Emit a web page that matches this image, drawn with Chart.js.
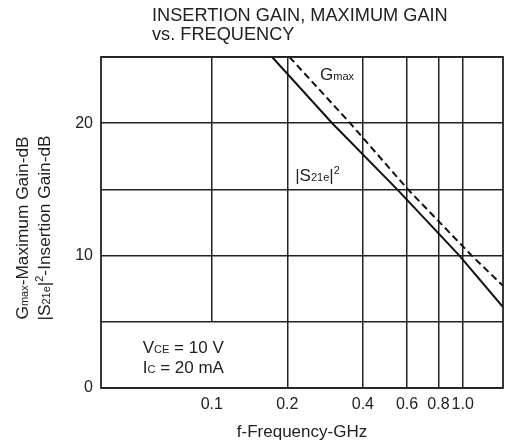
<!DOCTYPE html>
<html>
<head>
<meta charset="utf-8">
<script src="https://cdn.jsdelivr.net/npm/chart.js@4/dist/chart.umd.min.js"></script>
<style>
  html, body { margin: 0; padding: 0; background: #fff; }
  #wrap { width: 505px; height: 443px; }
</style>
</head>
<body>
<div id="wrap"><canvas id="gain-chart" width="505" height="443"></canvas></div>
<script>
// values
const xTicks = [0.1, 0.2, 0.4, 0.6, 0.8, 1.0];
const xTickLabels = ['0.1', '0.2', '0.4', '0.6', '0.8', '1.0'];
const yTickLabels = { 0: '0', 10: '10', 20: '20' };

// |S21e|^2 insertion gain (solid)
const s21Freq = [0.174, 0.302, 0.548, 0.97, 1.45];
const s21Gain = [25, 20, 15, 10, 6.1];

// Gmax maximum gain (dashed)
const gmaxFreq = [0.204, 0.356, 0.605, 1.086, 1.45];
const gmaxGain = [25, 20, 15, 10, 7.7];

const FONT = '"Liberation Sans", Arial, sans-serif';
const INK = '#222';

function toPoints(xs, ys) {
    return xs.map((x, i) => ({ x: x, y: ys[i] }));
}

// draws text made of pieces with their own size and vertical offset (sub/superscripts)
function drawRich(ctx, parts, x, y, align) {
    let total = 0;
    parts.forEach(p => {
        ctx.font = p[1] + 'px ' + FONT;
        total += ctx.measureText(p[0]).width;
    });
    let cx = align === 'center' ? x - total / 2 : x;
    ctx.textAlign = 'left';
    ctx.textBaseline = 'alphabetic';
    parts.forEach(p => {
        ctx.font = p[1] + 'px ' + FONT;
        ctx.fillText(p[0], cx, y + (p[2] || 0));
        cx += ctx.measureText(p[0]).width;
    });
}

const decorPlugin = {
    id: 'decor',
    beforeDatasetsDraw(chart) {
        const ctx = chart.ctx;
        const xs = chart.scales.x;
        const ys = chart.scales.y;
        // the 0.1 GHz grid line stops at 5 dB (condition box below)
        ctx.save();
        ctx.strokeStyle = INK;
        ctx.lineWidth = 1.5;
        const px = xs.getPixelForValue(0.1);
        ctx.beginPath();
        ctx.moveTo(px, ys.getPixelForValue(25));
        ctx.lineTo(px, ys.getPixelForValue(5));
        ctx.stroke();
        ctx.restore();
    },
    afterDraw(chart) {
        const ctx = chart.ctx;
        const a = chart.chartArea;
        const xs = chart.scales.x;
        const ys = chart.scales.y;
        ctx.save();

        // frame
        ctx.strokeStyle = INK;
        ctx.lineWidth = 1.8;
        ctx.strokeRect(a.left, a.top, a.right - a.left, a.bottom - a.top);

        ctx.fillStyle = INK;

        // title
        drawRich(ctx, [['INSERTION GAIN, MAXIMUM GAIN', 18.2]], 152, 20.5, 'left');
        drawRich(ctx, [['vs. FREQUENCY', 18.2]], 152, 40, 'left');

        // x axis title
        drawRich(ctx, [['f-Frequency-GHz', 17]], (a.left + a.right) / 2, 437, 'center');

        // y axis title, two rotated lines
        const midY = 228;
        ctx.save();
        ctx.translate(28, midY);
        ctx.rotate(-Math.PI / 2);
        drawRich(ctx, [['G', 17.3], ['max', 11], ['-Maximum Gain-dB', 17.3]], 0, 0, 'center');
        ctx.restore();
        ctx.save();
        ctx.translate(49.5, midY);
        ctx.rotate(-Math.PI / 2);
        drawRich(ctx, [['|S', 17.3], ['21e', 11], ['|', 17.3], ['2', 11, -7], ['-Insertion Gain-dB', 17.3]], 0, 0, 'center');
        ctx.restore();

        // curve labels
        drawRich(ctx, [['G', 17], ['max', 11]], xs.getPixelForValue(0.27), ys.getPixelForValue(23.25), 'left');
        drawRich(ctx, [['|S', 17], ['21e', 11], ['|', 17], ['2', 11, -7]], xs.getPixelForValue(0.215), ys.getPixelForValue(15.6), 'left');

        // bias conditions
        drawRich(ctx, [['V', 17], ['CE', 11], [' = 10 V', 17]], xs.getPixelForValue(0.0531), ys.getPixelForValue(2.65), 'left');
        drawRich(ctx, [['I', 17], ['C', 11], [' = 20 mA', 17]], xs.getPixelForValue(0.0531), ys.getPixelForValue(1.1), 'left');

        ctx.restore();
    }
};

new Chart(document.getElementById('gain-chart').getContext('2d'), {
    type: 'line',
    data: {
        datasets: [{
            label: 'Gmax',
            data: toPoints(gmaxFreq, gmaxGain),
            borderColor: '#111',
            borderWidth: 2,
            borderDash: [7, 4],
            pointRadius: 0,
            tension: 0
        }, {
            label: '|S21e|2',
            data: toPoints(s21Freq, s21Gain),
            borderColor: '#111',
            borderWidth: 2,
            pointRadius: 0,
            tension: 0
        }]
    },
    options: {
        responsive: false,
        animation: false,
        devicePixelRatio: 1,
        layout: { padding: { top: 57, right: 2, left: 71, bottom: 0 } },
        plugins: {
            legend: { display: false },
            tooltip: { enabled: false }
        },
        scales: {
            x: {
                type: 'logarithmic',
                min: 0.0362,
                max: 1.447,
                afterBuildTicks: (scale) => {
                    scale.ticks = xTicks.map(v => ({ value: v }));
                },
                afterFit: (scale) => { scale.height = 55; },
                ticks: {
                    autoSkip: false,
                    maxRotation: 0,
                    padding: 7,
                    color: INK,
                    font: { family: FONT, size: 16 },
                    callback: (value) => {
                        const i = xTicks.indexOf(value);
                        return i >= 0 ? xTickLabels[i] : '';
                    }
                },
                grid: {
                    drawTicks: false,
                    lineWidth: 1.5,
                    color: (c) => (c.tick && c.tick.value === 0.1) ? 'rgba(0,0,0,0)' : INK
                },
                border: { display: false }
            },
            y: {
                min: 0,
                max: 25,
                afterFit: (scale) => { scale.width = 30; },
                ticks: {
                    stepSize: 5,
                    padding: 8,
                    color: INK,
                    font: { family: FONT, size: 16 },
                    callback: (value) => yTickLabels[value] !== undefined ? yTickLabels[value] : ''
                },
                grid: {
                    drawTicks: false,
                    lineWidth: 1.5,
                    color: INK
                },
                border: { display: false }
            }
        }
    },
    plugins: [decorPlugin]
});
</script>
</body>
</html>
